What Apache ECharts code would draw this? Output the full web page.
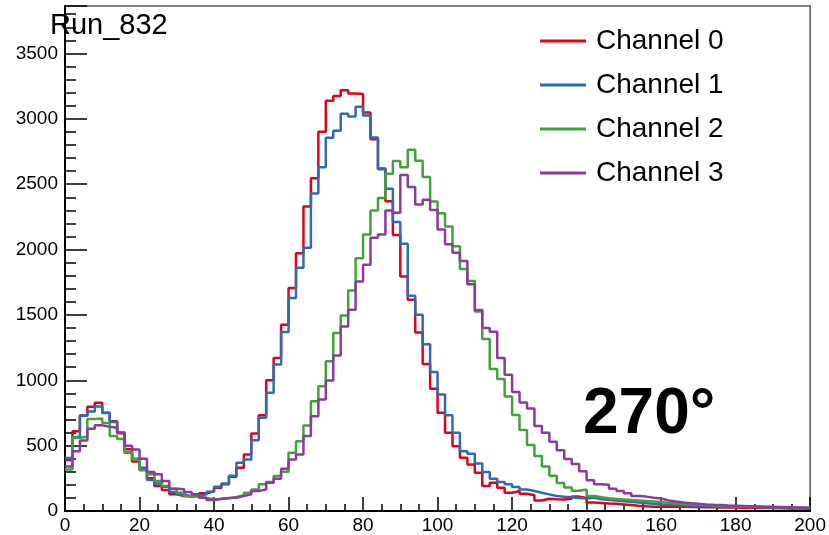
<!DOCTYPE html>
<html>
<head>
<meta charset="utf-8">
<title>Run_832</title>
<script src="https://cdn.jsdelivr.net/npm/echarts@6/dist/echarts.min.js"></script>
<style>
  html, body { margin: 0; padding: 0; background: #fff; }
  #chartContainer { width: 829px; height: 535px; }
</style>
</head>
<body>
<div id="chartContainer"></div>
<script>
(function () {
  'use strict';

  //bin width and range of the histogram
  var binWidth = 2;
  var xMin = 0;
  var xMax = 200;

  //series names and colours
  var channelNames = ['Channel 0', 'Channel 1', 'Channel 2', 'Channel 3'];
  var channelColors = ['#e2001a', '#2e6bb4', '#3fa33a', '#8b3b9c'];

  //bin contents, one value per 2-unit bin (0-2, 2-4, ... 198-200)
  var ch0 = [
    390, 610, 730, 798, 829, 752, 686, 594, 472, 378,
    314, 250, 191, 161, 128, 115, 110, 115, 135, 150,
    178, 204, 262, 331, 433, 593, 733, 1000, 1171, 1425,
    1705, 1972, 2329, 2545, 2901, 3138, 3175, 3219, 3194, 3189,
    3049, 2843, 2620, 2370, 2112, 1794, 1616, 1365, 1125, 935,
    751, 598, 496, 407, 356, 293, 191, 216, 178, 140,
    153, 132, 120, 81, 94, 90, 88, 94, 110, 100,
    65, 62, 58, 55, 50, 45, 40, 36, 33, 33,
    35, 33, 32, 30, 30, 29, 28, 27, 26, 26,
    25, 24, 23, 22, 22, 21, 20, 20, 19, 18
  ];
  var ch1 = [
    405, 567, 728, 762, 800, 750, 680, 598, 445, 400,
    331, 237, 211, 186, 145, 127, 112, 115, 127, 148,
    186, 211, 270, 369, 394, 542, 713, 904, 1120, 1370,
    1629, 1860, 2013, 2428, 2630, 2856, 2908, 3038, 3018, 3092,
    3026, 2858, 2614, 2465, 2210, 2044, 1647, 1502, 1276, 1064,
    891, 733, 598, 458, 438, 364, 298, 247, 221, 204,
    183, 165, 153, 140, 127, 115, 109, 105, 100, 95,
    102, 90, 85, 80, 75, 70, 65, 60, 55, 50,
    48, 46, 44, 42, 40, 38, 36, 35, 34, 33,
    32, 31, 30, 29, 28, 27, 26, 25, 24, 23
  ];
  var ch2 = [
    318, 560, 568, 703, 707, 674, 573, 550, 450, 395,
    314, 281, 230, 191, 171, 140, 115, 110, 100, 90,
    92, 97, 107, 118, 140, 165, 204, 221, 267, 300,
    445, 534, 654, 840, 954, 1145, 1362, 1496, 1687, 1934,
    2115, 2298, 2395, 2580, 2678, 2630, 2764, 2680, 2555, 2367,
    2278, 2176, 2025, 1852, 1760, 1527, 1316, 1087, 1010, 875,
    735, 620, 505, 420, 340, 270, 215, 180, 155, 165,
    115, 105, 98, 92, 88, 84, 80, 76, 72, 68,
    62, 58, 55, 50, 48, 45, 42, 40, 38, 36,
    35, 33, 32, 30, 30, 28, 26, 25, 24, 22
  ];
  var ch3 = [
    340, 458, 540, 630, 655, 645, 637, 600, 500, 470,
    400, 298, 281, 230, 171, 166, 145, 128, 102, 84,
    94, 100, 102, 115, 127, 153, 165, 216, 247, 323,
    394, 433, 573, 725, 853, 998, 1189, 1412, 1540, 1756,
    1883, 2090, 2115, 2298, 2281, 2571, 2478, 2345, 2380, 2303,
    2153, 2040, 1975, 1912, 1735, 1537, 1400, 1372, 1171, 1043,
    910, 830, 785, 650, 598, 530, 465, 398, 360, 305,
    235, 204, 200, 170, 153, 135, 115, 110, 102, 95,
    80, 72, 65, 60, 55, 50, 47, 45, 42, 40,
    38, 36, 34, 32, 30, 30, 28, 26, 24, 22
  ];
  var channels = [ch0, ch1, ch2, ch3];

  //turn bin contents into step points: left edge of every bin, plus the last right edge
  function toSteps(bins) {
    var pts = [];
    for (var i = 0; i < bins.length; i++) {
      pts.push([xMin + i * binWidth, bins[i]]);
    }
    pts.push([xMin + bins.length * binWidth, bins[bins.length - 1]]);
    return pts;
  }

  var font = '"Liberation Sans", Arial, Helvetica, sans-serif';

  var series = [];
  for (var c = 0; c < channels.length; c++) {
    series.push({
      name: channelNames[c],
      type: 'line',
      step: 'end',
      data: toSteps(channels[c]),
      showSymbol: false,
      symbol: 'none',
      animation: false,
      silent: true,
      lineStyle: { color: channelColors[c], width: 2.5 },
      itemStyle: { color: channelColors[c] }
    });
  }

  var chart = echarts.init(document.getElementById('chartContainer'), null, { renderer: 'canvas' });

  var option = {
    backgroundColor: '#fff',
    animation: false,
    grid: {
      left: 65,
      right: 18,
      top: 6,
      bottom: 23,
      show: true,
      borderColor: '#555',
      borderWidth: 1.5,
      backgroundColor: 'transparent'
    },
    legend: {
      orient: 'vertical',
      left: 535,
      top: 22,
      itemWidth: 46,
      itemHeight: 3,
      itemGap: 16,
      icon: 'rect',
      textStyle: { fontFamily: font, fontSize: 28, color: '#000', padding: [0, 0, 0, 5] },
      data: channelNames
    },
    xAxis: {
      type: 'value',
      min: xMin,
      max: xMax,
      interval: 20,
      axisLine: { show: true, onZero: false, lineStyle: { color: '#000', width: 2 } },
      axisTick: { show: true, inside: true, length: 14, lineStyle: { color: '#000', width: 1.5 } },
      minorTick: { show: true, splitNumber: 4, length: 7, lineStyle: { color: '#000', width: 1.5 } },
      splitLine: { show: false },
      axisLabel: { margin: 5, fontFamily: font, fontSize: 19, color: '#000' }
    },
    yAxis: {
      type: 'value',
      min: 0,
      max: 3863,
      interval: 500,
      axisLine: { show: true, lineStyle: { color: '#000', width: 2 } },
      axisTick: { show: true, inside: true, length: 22, lineStyle: { color: '#000', width: 1.5 } },
      minorTick: { show: true, splitNumber: 5, length: 11, lineStyle: { color: '#000', width: 1.5 } },
      splitLine: { show: false },
      axisLabel: {
        margin: 7,
        fontFamily: font,
        fontSize: 19,
        color: '#000',
        formatter: function (v) {
          return v % 500 === 0 ? String(v) : '';
        }
      }
    },
    graphic: [
      //histogram title, drawn over the frame like ROOT does
      {
        type: 'text',
        left: 50,
        top: 11,
        z: 100,
        style: { text: 'Run_832', fontFamily: font, fontSize: 29, fill: '#000' }
      },
      //angle label
      {
        type: 'text',
        left: 583,
        top: 383,
        z: 100,
        style: { text: '270°', fontFamily: font, fontSize: 64, fontWeight: 'bold', fill: '#000' }
      }
    ],
    series: series
  };

  chart.setOption(option);
})();
</script>
</body>
</html>
